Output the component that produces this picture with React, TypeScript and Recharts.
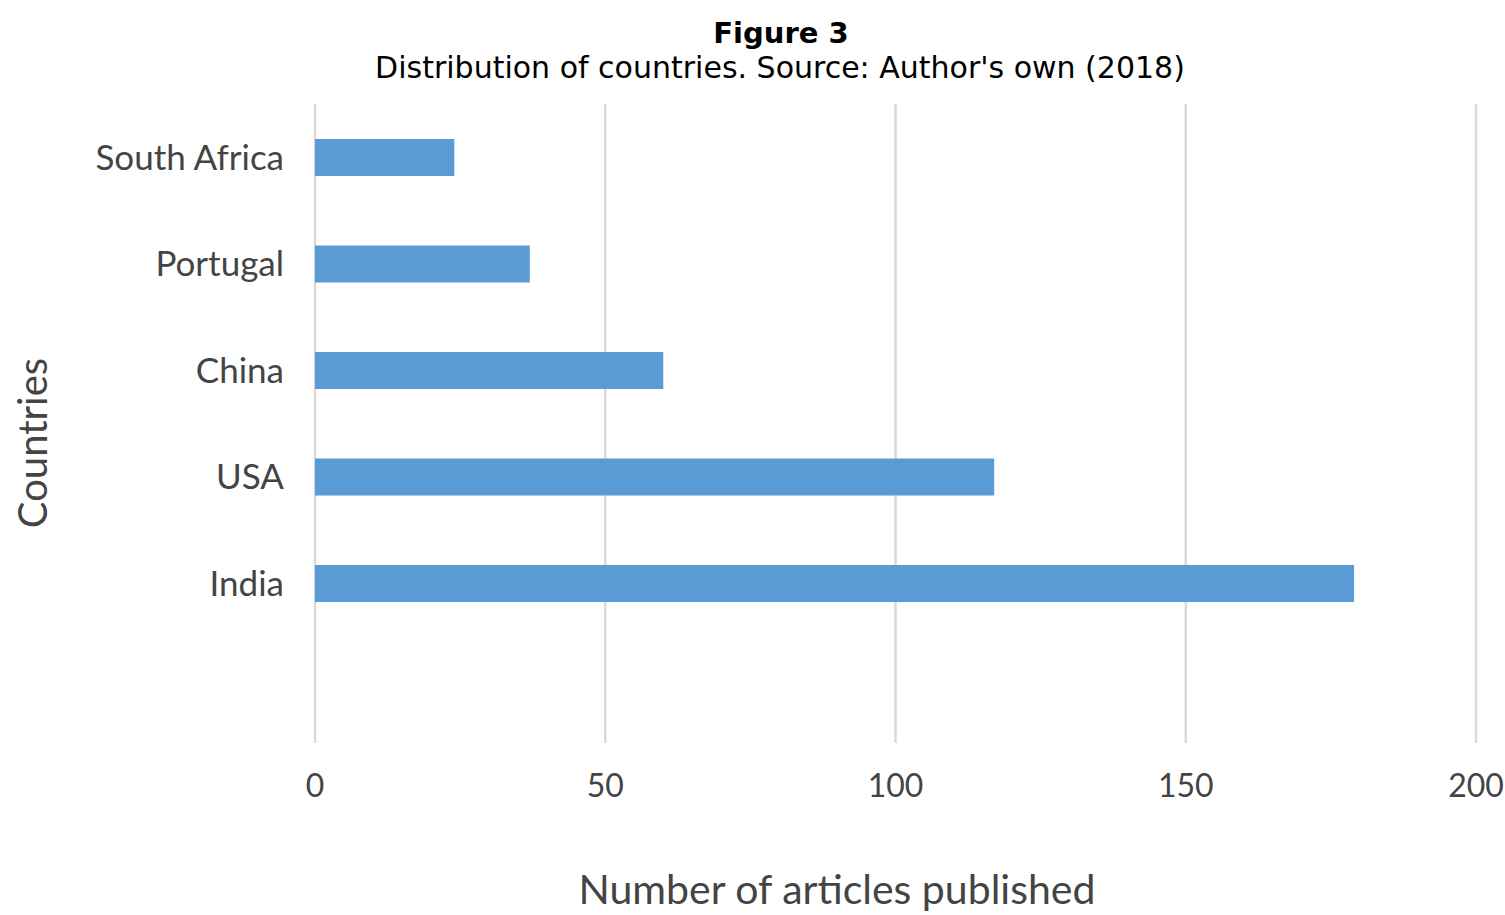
import React from "react";
import { BarChart, Bar, XAxis, YAxis, CartesianGrid } from "recharts";

// Countries listed top to bottom; the trailing blank row leaves an empty slot under India
const countries = ["South Africa", "Portugal", "China", "USA", "India", ""];
const articles: (number | null)[] = [24, 37, 60, 117, 179, null];
const xTicks = [0, 50, 100, 150, 200];

const title = "Figure 3";
const subtitle = "Distribution of countries. Source: Author's own (2018)";
const xTitle = "Number of articles published";
const yTitle = "Countries";

const data = countries.map((country, i) => ({ country, articles: articles[i] }));

const W = 1505;
const H = 915;
const labelFont = "Lato, 'Open Sans', sans-serif";
const labelColor = "#444444";

export default function App() {
  return (
    <div style={{ position: "absolute", left: 0, top: 0, width: W, height: H, background: "#ffffff" }}>
      <BarChart
        width={W}
        height={H}
        data={data}
        layout="vertical"
        margin={{ top: 104, right: 29, left: 0, bottom: 112 }}
      >
        <CartesianGrid horizontal={false} stroke="#d9d9d9" strokeWidth={2.5} />
        <XAxis
          type="number"
          domain={[0, 200]}
          ticks={xTicks}
          axisLine={false}
          tickLine={false}
          tickSize={0}
          tickMargin={31}
          height={60}
          tick={{ fontFamily: labelFont, fontSize: 32, fill: labelColor }}
        />
        <YAxis
          type="category"
          dataKey="country"
          width={315}
          axisLine={false}
          tickLine={false}
          tickSize={0}
          tickMargin={31}
          interval={0}
          tick={{ fontFamily: labelFont, fontSize: 35, fill: labelColor }}
        />
        <Bar dataKey="articles" fill="#5b9bd5" barSize={37} isAnimationActive={false} />
      </BarChart>
      <svg
        width={W}
        height={H}
        style={{ position: "absolute", left: 0, top: 0, pointerEvents: "none" }}
      >
        <text x={781} y={43} textAnchor="middle" fontFamily="'DejaVu Sans', Verdana, sans-serif" fontWeight="bold" fontSize={29} fill="#000">
          {title}
        </text>
        <text x={780} y={78} textAnchor="middle" fontFamily="'DejaVu Sans', Verdana, sans-serif" fontSize={30} fill="#000">
          {subtitle}
        </text>
        <text x={837} y={904} textAnchor="middle" fontFamily={labelFont} fontSize={41} fill={labelColor}>
          {xTitle}
        </text>
        <text
          x={47}
          y={443}
          textAnchor="middle"
          transform="rotate(-90 47 443)"
          fontFamily={labelFont}
          fontSize={40}
          fill={labelColor}
        >
          {yTitle}
        </text>
      </svg>
    </div>
  );
}
